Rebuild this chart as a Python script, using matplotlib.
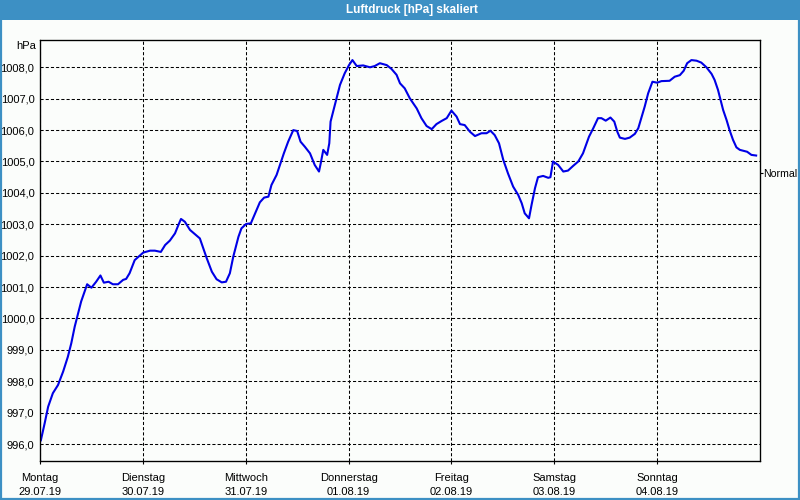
import matplotlib.pyplot as plt
from matplotlib.patches import Rectangle

# Stunden seit Montag 29.07.19 00:00
stunden = [0.2, 1.1, 1.9, 3.0, 4.2, 5.4, 6.5, 7.3, 8.1, 8.9, 9.6, 10.4, 11.0, 12.0,
           13.1, 14.1, 14.9, 16.0, 17.0, 18.2, 19.4, 20.1, 20.9, 22.1, 24.1, 25.7,
           26.8, 28.2, 29.2, 30.3, 31.5, 32.3, 32.9, 33.8, 35.0, 36.2, 37.3, 38.1,
           38.9, 40.1, 41.2, 42.4, 43.4, 44.3, 45.1, 46.3, 47.0, 48.1, 49.2, 50.2,
           51.3, 52.3, 53.3, 54.0, 55.2, 56.1, 56.9, 57.9, 59.1, 60.0, 60.8, 61.8,
           63.0, 64.1, 65.1, 65.5, 66.1, 67.0, 67.5, 67.8, 68.8, 70.0, 71.1, 72.1,
           72.9, 73.9, 75.4, 77.0, 78.1, 79.3, 80.9, 82.0, 83.2, 84.0, 85.1, 86.3,
           87.9, 89.0, 90.2, 91.4, 92.5, 93.7, 94.9, 96.0, 97.2, 98.0, 99.1, 100.3,
           101.5, 103.0, 104.2, 105.1, 106.1, 107.1, 108.1, 109.2, 110.4, 111.6,
           112.4, 113.1, 114.1, 114.7, 115.5, 116.2, 117.4, 118.6, 119.1, 119.7,
           120.9, 122.1, 123.2, 124.4, 125.6, 126.7, 128.1, 129.1, 130.2, 131.0,
           132.0, 133.1, 134.0, 134.7, 135.3, 136.5, 137.6, 138.8, 139.6, 140.3,
           141.1, 141.9, 142.9, 144.0, 145.0, 146.9, 148.1, 149.3, 150.2, 151.0,
           152.0, 153.2, 154.3, 155.5, 156.7, 157.4, 158.2, 158.8, 159.4, 160.2,
           160.9, 161.7, 162.5, 163.3, 165.0, 166.0, 167.1]
druck = [996.12, 996.67, 997.19, 997.62, 997.88, 998.31, 998.78, 999.21, 999.74,
         1000.17, 1000.54, 1000.86, 1001.09, 1000.98, 1001.17, 1001.37, 1001.14,
         1001.17, 1001.09, 1001.09, 1001.23, 1001.26, 1001.44, 1001.86, 1002.10,
         1002.16, 1002.16, 1002.12, 1002.34, 1002.48, 1002.71, 1002.98, 1003.17,
         1003.08, 1002.82, 1002.68, 1002.55, 1002.24, 1001.92, 1001.49, 1001.25,
         1001.15, 1001.17, 1001.44, 1001.97, 1002.60, 1002.87, 1003.01, 1003.03,
         1003.35, 1003.70, 1003.85, 1003.88, 1004.25, 1004.57, 1004.94, 1005.26,
         1005.63, 1006.00, 1005.97, 1005.63, 1005.47, 1005.26, 1004.89, 1004.68,
         1004.94, 1005.37, 1005.21, 1005.58, 1006.27, 1006.80, 1007.44, 1007.81,
         1008.07, 1008.23, 1008.04, 1008.06, 1008.00, 1008.04, 1008.13, 1008.07,
         1007.95, 1007.76, 1007.49, 1007.33, 1007.01, 1006.69, 1006.38, 1006.13,
         1006.03, 1006.19, 1006.29, 1006.38, 1006.62, 1006.43, 1006.19, 1006.16,
         1005.95, 1005.81, 1005.90, 1005.90, 1005.98, 1005.84, 1005.58, 1005.05,
         1004.62, 1004.20, 1003.93, 1003.67, 1003.35, 1003.19, 1003.62, 1004.15,
         1004.50, 1004.54, 1004.48, 1004.50, 1005.00, 1004.89, 1004.68, 1004.71,
         1004.86, 1005.00, 1005.26, 1005.79, 1006.06, 1006.38, 1006.38, 1006.30,
         1006.40, 1006.27, 1005.95, 1005.76, 1005.72, 1005.76, 1005.88, 1006.06,
         1006.38, 1006.75, 1007.17, 1007.54, 1007.51, 1007.56, 1007.57, 1007.70,
         1007.75, 1007.89, 1008.13, 1008.23, 1008.21, 1008.15, 1008.00, 1007.79,
         1007.60, 1007.28, 1006.96, 1006.64, 1006.32, 1006.00, 1005.69, 1005.45,
         1005.37, 1005.31, 1005.21, 1005.19]

tage = ['Montag', 'Dienstag', 'Mittwoch', 'Donnerstag', 'Freitag', 'Samstag', 'Sonntag']
daten = ['29.07.19', '30.07.19', '31.07.19', '01.08.19', '02.08.19', '03.08.19', '04.08.19']
y_ticks = [996, 997, 998, 999, 1000, 1001, 1002, 1003, 1004, 1005, 1006, 1007, 1008]
normal_wert = 1004.63

plt.rcParams['font.family'] = ['Liberation Sans', 'DejaVu Sans']
plt.rcParams['font.size'] = 8

blau = '#3d90c4'
hg = '#fbfdfb'

fig = plt.figure(figsize=(8, 5), dpi=100, facecolor=hg)
# Titelleiste + Rahmen
fig.patches.append(Rectangle((0, 0.96), 1, 0.04, transform=fig.transFigure,
                             facecolor=blau, edgecolor='none', zorder=0))
fig.patches.append(Rectangle((0.0012, 0.002), 0.9976, 0.996, transform=fig.transFigure,
                             facecolor='none', edgecolor=blau, linewidth=1.6, zorder=0))
fig.text(0.515, 0.98, 'Luftdruck [hPa] skaliert', color='white', fontweight='bold',
         ha='center', va='center', fontsize=8.5)

ax = fig.add_axes([0.05, 0.0786, 0.90, 0.8408])
ax.set_facecolor(hg)
ax.plot(stunden, druck, color='#0000e6', linewidth=1.5, zorder=3)

ax.set_xlim(0, 168)
ax.set_ylim(995.47, 1008.86)

ax.set_xticks([24 * i for i in range(7)])
ax.set_xticklabels([t + '\n' + d for t, d in zip(tage, daten)], linespacing=1.45)
ax.set_yticks(y_ticks)
ax.set_yticklabels([f'{v:.1f}'.replace('.', ',') for v in y_ticks])
ax.tick_params(axis='x', length=2, width=0.8, pad=7)
ax.tick_params(axis='y', length=0, pad=4)

ax.grid(True, color='black', linestyle=(0, (3, 2)), linewidth=0.75)
for s in ax.spines.values():
    s.set_linewidth(0.9)
    s.set_zorder(4)

ax.text(-0.005, 1008.68, 'hPa', ha='right', va='center',
        transform=ax.get_yaxis_transform())

ax2 = ax.twinx()
ax2.set_ylim(ax.get_ylim())
ax2.set_yticks([normal_wert])
ax2.set_yticklabels(['Normal'], fontsize=7.6)
ax2.tick_params(axis='y', length=2, width=0.8, pad=0.5)

fig.savefig('out.png', dpi=100, facecolor=hg)
